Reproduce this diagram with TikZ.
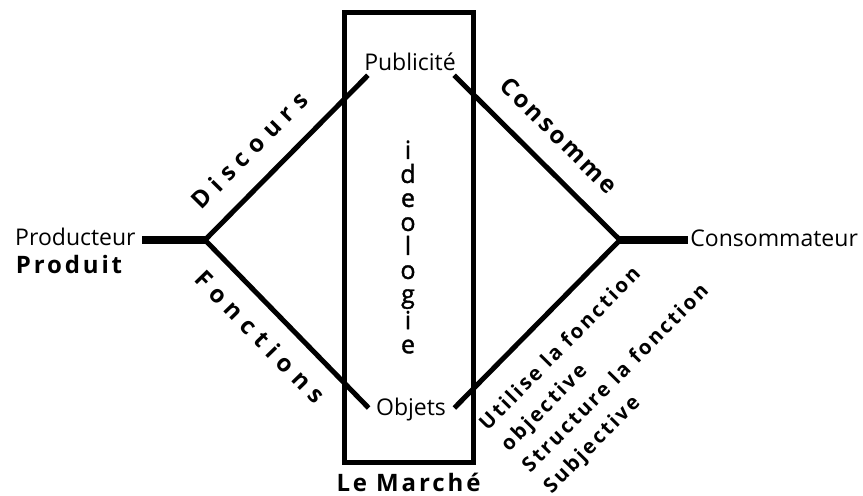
\documentclass[tikz,border=0pt]{standalone}
\usepackage{fontspec}
\setmainfont{Open Sans}
\newfontfamily\espace[LetterSpace=12]{Open Sans}
\newfontfamily\largeespace[LetterSpace=30]{Open Sans}
\newfontfamily\demi[FakeBold=1.5]{Open Sans}
\usetikzlibrary{positioning}

\tikzset{
  txt/.style={font=\fontsize{11.5}{13}\selectfont, inner sep=1pt},
  gras/.style={font=\espace\bfseries\fontsize{12}{14}\selectfont, inner sep=1pt},
  large/.style={font=\largeespace\bfseries\fontsize{12}{14}\selectfont, inner sep=1pt},
  petit/.style={font=\espace\bfseries\fontsize{10.2}{15}\selectfont, inner sep=1pt, align=left},
  trait/.style={line width=2.5pt},
  barre/.style={line width=4pt},
}

\begin{document}
\begin{tikzpicture}[x=0.5pt,y=-0.5pt]
		\useasboundingbox (0,0) rectangle (863,495);
		% le marche
		\node[draw, line width=2.5pt, minimum width=64.5pt, minimum height=225pt] (marche) at (408.5,237) {};
		\node[gras, below=3pt of marche] (lemarche) {Le Marché};
		\node[font=\demi\fontsize{12.5}{12}\selectfont, align=center] (ideo) at (408,247) {i\\d\\e\\o\\l\\o\\g\\i\\e};
		\node[txt] (pub) at (410,62) {Publicité};
		\node[txt] (obj) at (411,410) {Objets};
		% extremites
		\node[txt, anchor=east] (prod) at (138,237) {Producteur};
		\node[gras] (produit) at (69,264) {Produit};
		\node[txt, anchor=west] (cons) at (688,238) {Consommateur};
		\coordinate (lj) at (205,240);
		\coordinate (rj) at (620,240);
		\draw[barre] ([shift={(4,0)}]prod.east |- lj) -- (lj);
		\draw[barre] (rj) -- (cons.west |- rj);
		% branches
		\draw[trait] (lj) -- node[large, sloped, above=9pt, pos=.41] {Discours} ([shift={(6,2)}]pub.south west);
		\draw[trait] (lj) -- node[large, sloped, below=7pt, pos=.46] {Fonctions} ([shift={(-5,-2)}]obj.west);
		\draw[trait] ([shift={(-4,2)}]pub.south east) -- node[gras, sloped, above=9pt, pos=.5] {Consomme} (rj);
		\draw[trait] ([shift={(6,-2)}]obj.east) -- node[petit, sloped, below=10pt, pos=.57] {Utilise la fonction\\objective\\Structure la fonction\\Subjective} (rj);
\end{tikzpicture}
\end{document}
